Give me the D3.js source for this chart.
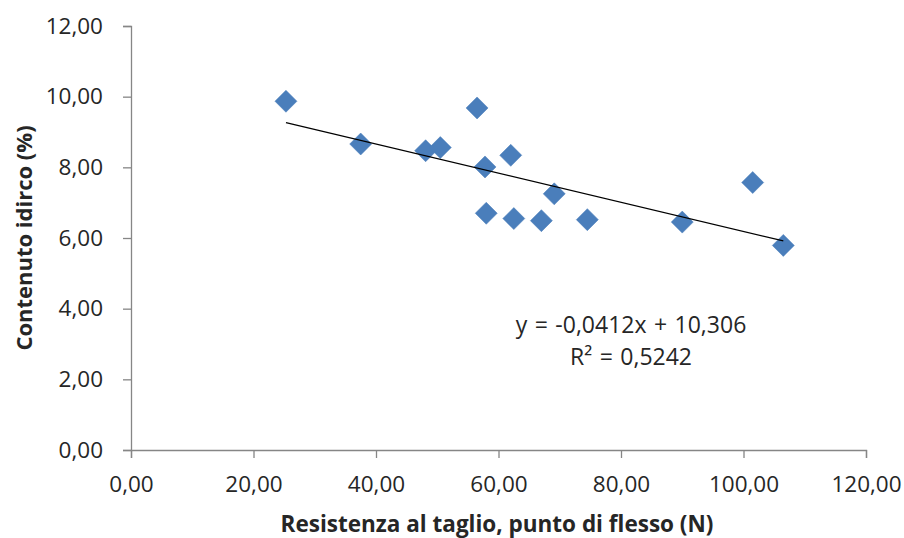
<!DOCTYPE html>
<html>
<head>
<meta charset="utf-8">
<script src="https://cdn.jsdelivr.net/npm/d3@7"></script>
<style>
  html, body { margin: 0; padding: 0; background: #fff; }
  svg { display: block; }
  text { font-family: "Open Sans", "Liberation Sans", sans-serif; fill: #262626; }
</style>
</head>
<body>
<svg id="chart" width="904" height="538"></svg>
<script>
// Data
const resistenza = [25.3, 37.5, 48.1, 50.5, 56.5, 57.8, 62.0, 58.0, 62.5, 67.0, 69.1, 74.5, 90.0, 101.5, 106.5];
const contenuto  = [9.87, 8.66, 8.47, 8.56, 9.68, 8.01, 8.34, 6.70, 6.55, 6.49, 7.25, 6.52, 6.45, 7.57, 5.79];
const xTicks = [0, 20, 40, 60, 80, 100, 120];
const yTicks = [0, 2, 4, 6, 8, 10, 12];
const trendSlope = -0.0412;
const trendIntercept = 10.306;
const equationLines = ["y = -0,0412x + 10,306", "R² = 0,5242"];
const xTitle = "Resistenza al taglio, punto di flesso (N)";
const yTitle = "Contenuto idirco (%)";

const svg = d3.select("#chart");
const mLeft = 131, mRight = 866, mTop = 26, mBottom = 450;

const x = d3.scaleLinear().domain([0, 120]).range([mLeft, mRight]);
const y = d3.scaleLinear().domain([0, 12]).range([mBottom, mTop]);
const fmt = v => d3.format(".2f")(v).replace(".", ",");
const axisColor = "#868686";

// X axis
const gx = svg.append("g").attr("transform", `translate(0,${mBottom})`)
  .call(d3.axisBottom(x).tickValues(xTicks).tickFormat(fmt).tickSize(8).tickPadding(18));
gx.select(".domain").attr("stroke", axisColor).attr("stroke-width", 1.3);
gx.selectAll(".tick line").attr("stroke", axisColor).attr("stroke-width", 1.3);
gx.selectAll(".tick text").attr("font-size", 22.5).attr("font-family", "Open Sans").attr("fill", "#262626");

// Y axis
const gy = svg.append("g").attr("transform", `translate(${mLeft},0)`)
  .call(d3.axisLeft(y).tickValues(yTicks).tickFormat(fmt).tickSize(8).tickPadding(20));
gy.select(".domain").attr("stroke", axisColor).attr("stroke-width", 1.3);
gy.selectAll(".tick line").attr("stroke", axisColor).attr("stroke-width", 1.3);
gy.selectAll(".tick text").attr("font-size", 22.5).attr("font-family", "Open Sans").attr("fill", "#262626");

// Points
const data = resistenza.map((r, i) => ({ x: r, y: contenuto[i] }));
const diamond = d3.symbol().type(d3.symbolSquare).size(242);
svg.append("g").selectAll("path").data(data).join("path")
  .attr("d", diamond)
  .attr("transform", d => `translate(${x(d.x)},${y(d.y)}) rotate(45)`)
  .attr("fill", "#4A7EBB")
  .attr("stroke", "#4A7EBB")
  .attr("stroke-width", 0.5);

// Trend line
const xmin = d3.min(resistenza), xmax = d3.max(resistenza);
svg.append("line")
  .attr("x1", x(xmin)).attr("y1", y(trendSlope * xmin + trendIntercept))
  .attr("x2", x(xmax)).attr("y2", y(trendSlope * xmax + trendIntercept))
  .attr("stroke", "#000").attr("stroke-width", 1.2);

// Equation
svg.append("g").selectAll("text").data(equationLines).join("text")
  .attr("x", 631).attr("y", (d, i) => 333 + i * 32)
  .attr("text-anchor", "middle")
  .attr("font-size", 23)
  .attr("word-spacing", 1.5)
  .text(d => d);

// Axis titles
svg.append("text")
  .attr("x", 497).attr("y", 532)
  .attr("text-anchor", "middle")
  .attr("font-weight", "bold")
  .attr("font-size", 22.5)
  .attr("fill", "#000")
  .text(xTitle);

svg.append("text")
  .attr("transform", "translate(32,238) rotate(-90)")
  .attr("text-anchor", "middle")
  .attr("font-weight", "bold")
  .attr("font-size", 22)
  .attr("fill", "#000")
  .text(yTitle);
</script>
</body>
</html>
